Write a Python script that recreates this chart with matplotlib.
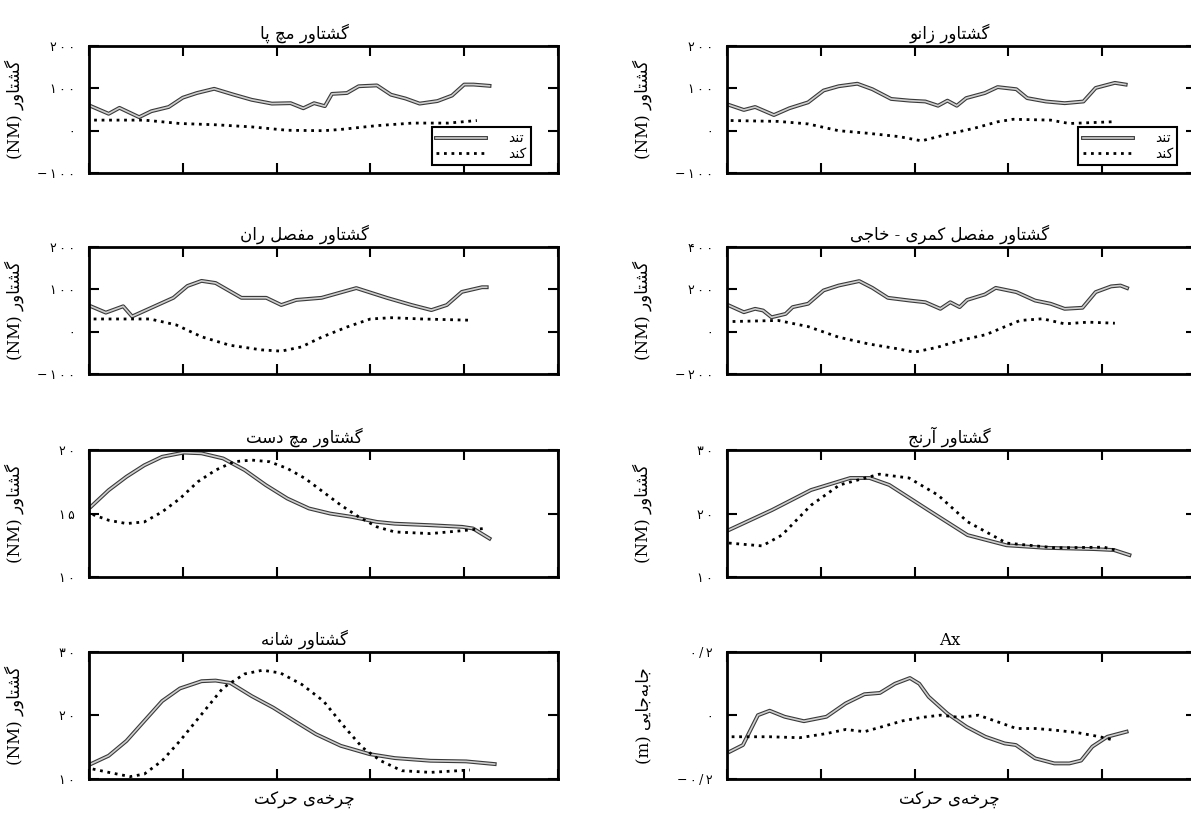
import matplotlib
matplotlib.use('Agg')
import matplotlib.pyplot as plt
import matplotlib.patheffects as pe
from matplotlib.ticker import FixedLocator, FuncFormatter

plt.rcParams['font.family'] = ['DejaVu Serif', 'DejaVu Sans']

# --- data (x = percent of cycle) ---
ankle_fast_x = [0, 4.2, 6.5, 10.7, 13.3, 17, 20, 23, 26.7, 30.9, 34.7, 39, 43, 45.7, 48, 50.3, 51.8, 55, 57.5, 61.4, 64.4, 67.5, 70.5, 74.3, 77.4, 80, 82, 85.4]
ankle_fast_y = [60, 40, 54, 32, 46, 56, 78, 89, 99, 85, 73, 64, 65, 53, 65, 58, 87, 89, 105, 107, 85, 76, 64, 70, 83, 109, 109, 106]
ankle_slow_x = [1.1, 11.8, 19.4, 27, 34.7, 42.3, 50, 53.7, 61.4, 69, 76.6, 82.7]
ankle_slow_y = [25, 25, 17, 14, 9, 1, 0, 3, 12, 18, 18, 24]

knee_fast_x = [0.4, 3.6, 6, 10, 13.3, 17.3, 20.6, 23.8, 27.8, 31, 35, 39, 42.3, 45, 47, 49, 51, 55, 57.7, 61.7, 64, 68, 72, 76, 78.6, 82.7, 85]
knee_fast_y = [61, 49, 56, 37, 53, 67, 95, 105, 111, 98, 75, 71, 69, 59, 71, 59, 77, 89, 103, 98, 77, 69, 65, 69, 101, 113, 109]
knee_slow_x = [0.8, 10.9, 17.3, 23.8, 30, 36.7, 41.5, 46.4, 52.8, 57.7, 61, 69, 73, 82]
knee_slow_y = [24, 22, 16, 0, -6, -14, -24, -10, 6, 21, 27, 25, 17, 21]

hip_fast_x = [0.4, 3.6, 7.3, 9.2, 13, 18, 21, 24, 27, 32.5, 37.8, 41, 44.2, 49.6, 57, 63.5, 68.8, 73, 76.3, 79.5, 83.8, 84.8]
hip_fast_y = [60, 45, 60, 36, 55, 80, 108, 120, 115, 80, 80, 63, 75, 80, 103, 80, 63, 51, 63, 94, 105, 105]
hip_slow_x = [1, 13, 18.6, 24, 30, 36.8, 41, 45.3, 49.6, 55, 60, 64.5, 71, 81.6]
hip_slow_y = [30, 30, 16, -12, -32, -43, -46, -36, -13, 11, 30, 33, 30, 27]

lumbar_fast_x = [0, 3.6, 6, 7.7, 9.5, 12.5, 14, 17.3, 20.6, 23.8, 28.2, 31, 34.3, 39, 42.3, 45.5, 47.6, 49.6, 51.2, 55, 57.3, 61.7, 65.7, 69, 72, 75.8, 78.6, 81.9, 83.9, 85.3]
lumbar_fast_y = [128, 92, 108, 100, 68, 84, 116, 132, 195, 218, 239, 207, 160, 147, 139, 108, 139, 116, 150, 176, 207, 187, 147, 132, 108, 113, 187, 214, 218, 206]
lumbar_slow_x = [1.2, 10.9, 17.3, 23.8, 30.2, 36.7, 39.9, 44.8, 49.6, 55.2, 59.3, 62.5, 67.3, 72, 77, 82.7]
lumbar_slow_y = [48, 53, 24, -26, -58, -82, -97, -74, -42, -14, 24, 53, 61, 37, 45, 40]

wrist_fast_x = [0.4, 4.2, 8, 11.8, 15.6, 20.2, 24, 28.6, 33.2, 37.7, 42.3, 46.9, 51.4, 56, 61.4, 65.2, 72.8, 79.6, 81.9, 85.4]
wrist_fast_y = [15.53, 16.84, 17.9, 18.8, 19.47, 19.8, 19.74, 19.34, 18.42, 17.24, 16.18, 15.4, 15.0, 14.74, 14.34, 14.2, 14.08, 13.95, 13.82, 13.03]
wrist_slow_x = [0.8, 4.2, 8, 11.8, 15.6, 19.4, 23.2, 27, 30.9, 34.7, 38.5, 42.3, 46.1, 49.9, 53.7, 57.5, 61.4, 65.2, 72.8, 80.4, 84.2]
wrist_slow_y = [14.92, 14.47, 14.21, 14.34, 15.13, 16.18, 17.5, 18.42, 19.08, 19.21, 19.08, 18.55, 17.76, 16.71, 15.66, 14.74, 13.95, 13.55, 13.42, 13.68, 13.82]

elbow_fast_x = [0.4, 9.6, 17.9, 26.3, 30.4, 34.6, 42.9, 51.3, 59.6, 67.9, 78.3, 82.5, 85.8]
elbow_fast_y = [17.4, 20.55, 23.7, 25.6, 25.6, 24.5, 20.55, 16.6, 15.0, 14.6, 14.4, 14.25, 13.46]
elbow_slow_x = [0.4, 7.5, 11.7, 17.9, 24, 32.5, 38.8, 45, 51.3, 59.6, 70, 80.4, 83.5]
elbow_slow_y = [15.35, 14.9, 16.6, 21.3, 24.5, 26.2, 25.6, 22.9, 18.7, 15.35, 14.6, 14.7, 14.1]

shoulder_fast_x = [0.4, 4.2, 8, 11.8, 15.6, 19.4, 24, 27, 30.1, 34.7, 39.3, 43.8, 48.4, 53.7, 59.8, 65.2, 72.8, 80.4, 86.5]
shoulder_fast_y = [12.35, 13.66, 16.0, 19.14, 22.27, 24.26, 25.4, 25.5, 25.14, 23.05, 21.23, 19.14, 17.05, 15.22, 13.92, 13.29, 12.87, 12.77, 12.35]
shoulder_slow_x = [0.8, 4.2, 8.8, 11.8, 15.6, 19.4, 24, 28.6, 33.2, 37, 40.8, 45.4, 50, 54.6, 58.3, 62.2, 66.7, 72.8, 81.2]
shoulder_slow_y = [11.57, 11.04, 10.37, 10.78, 12.87, 16.0, 20.18, 24.36, 26.55, 27.13, 26.7, 24.88, 22.27, 18.09, 14.96, 12.87, 11.3, 11.04, 11.41]

ax_fast_x = [0.6, 3.4, 5, 6.6, 9.1, 12.3, 16.4, 21.2, 25.3, 29.3, 32.6, 35.8, 39, 41, 43, 47, 51.1, 55.1, 59.2, 61.6, 65.7, 69.8, 73, 75.5, 77.9, 81.1, 85.2]
ax_fast_y = [-0.114, -0.093, -0.046, 0.001, 0.015, -0.004, -0.018, -0.004, 0.038, 0.067, 0.071, 0.1, 0.118, 0.1, 0.059, 0.006, -0.036, -0.067, -0.088, -0.093, -0.135, -0.151, -0.151, -0.142, -0.098, -0.067, -0.051]
ax_slow_x = [1, 9.1, 15.5, 21.2, 25.3, 29.3, 33.4, 37.4, 41.5, 45.5, 49.6, 53.6, 57.7, 61.7, 65.8, 69.8, 74.7, 79.5, 82.3]
ax_slow_y = [-0.067, -0.067, -0.07, -0.057, -0.044, -0.051, -0.034, -0.017, -0.006, 0.001, -0.006, 0.001, -0.02, -0.041, -0.041, -0.046, -0.054, -0.067, -0.077]

titles = ['گشتاور مچ پا', 'گشتاور زانو', 'گشتاور مفصل ران', 'گشتاور مفصل کمری - خاجی',
          'گشتاور مچ دست', 'گشتاور آرنج', 'گشتاور شانه', 'Ax']
ylims = [(-100, 200), (-100, 200), (-100, 200), (-200, 400), (10, 20), (10, 30), (10, 30), (-0.2, 0.2)]
yticks = [[-100, 0, 100, 200], [-100, 0, 100, 200], [-100, 0, 100, 200], [-200, 0, 200, 400],
          [10, 15, 20], [10, 20, 30], [10, 20, 30], [-0.2, 0, 0.2]]
legend_labels = ['تند', 'کند']
xlabel_text = 'چرخه‌ی حرکت'

series = [
    (ankle_fast_x, ankle_fast_y, ankle_slow_x, ankle_slow_y),
    (knee_fast_x, knee_fast_y, knee_slow_x, knee_slow_y),
    (hip_fast_x, hip_fast_y, hip_slow_x, hip_slow_y),
    (lumbar_fast_x, lumbar_fast_y, lumbar_slow_x, lumbar_slow_y),
    (wrist_fast_x, wrist_fast_y, wrist_slow_x, wrist_slow_y),
    (elbow_fast_x, elbow_fast_y, elbow_slow_x, elbow_slow_y),
    (shoulder_fast_x, shoulder_fast_y, shoulder_slow_x, shoulder_slow_y),
    (ax_fast_x, ax_fast_y, ax_slow_x, ax_slow_y),
]

# --- minimal persian shaping (matplotlib has no RTL / joining) ---
FORMS = {
    'ا': ('\uFE8D', '\uFE8E'), 'آ': ('\uFE81', '\uFE82'),
    'د': ('\uFEA9', '\uFEAA'), 'ر': ('\uFEAD', '\uFEAE'),
    'ز': ('\uFEAF', '\uFEB0'), 'و': ('\uFEED', '\uFEEE'),
    'ب': ('\uFE8F', '\uFE90', '\uFE91', '\uFE92'),
    'پ': ('\uFB56', '\uFB57', '\uFB58', '\uFB59'),
    'ت': ('\uFE95', '\uFE96', '\uFE97', '\uFE98'),
    'ج': ('\uFE9D', '\uFE9E', '\uFE9F', '\uFEA0'),
    'چ': ('\uFB7A', '\uFB7B', '\uFB7C', '\uFB7D'),
    'ح': ('\uFEA1', '\uFEA2', '\uFEA3', '\uFEA4'),
    'خ': ('\uFEA5', '\uFEA6', '\uFEA7', '\uFEA8'),
    'س': ('\uFEB1', '\uFEB2', '\uFEB3', '\uFEB4'),
    'ش': ('\uFEB5', '\uFEB6', '\uFEB7', '\uFEB8'),
    'ص': ('\uFEB9', '\uFEBA', '\uFEBB', '\uFEBC'),
    'ف': ('\uFED1', '\uFED2', '\uFED3', '\uFED4'),
    'ک': ('\uFB8E', '\uFB8F', '\uFB90', '\uFB91'),
    'گ': ('\uFB92', '\uFB93', '\uFB94', '\uFB95'),
    'ل': ('\uFEDD', '\uFEDE', '\uFEDF', '\uFEE0'),
    'م': ('\uFEE1', '\uFEE2', '\uFEE3', '\uFEE4'),
    'ن': ('\uFEE5', '\uFEE6', '\uFEE7', '\uFEE8'),
    'ه': ('\uFEE9', '\uFEEA', '\uFEEB', '\uFEEC'),
    'ی': ('\uFBFC', '\uFBFD', '\uFBFE', '\uFBFF'),
}


def fa(s):
    out = []
    for i, c in enumerate(s):
        if c not in FORMS:
            if c != '\u200c':
                out.append(c)
            continue
        f = FORMS[c]
        prev = s[i - 1] if i > 0 else ''
        nxt = s[i + 1] if i + 1 < len(s) else ''
        jp = prev in FORMS and len(FORMS[prev]) == 4
        jn = nxt in FORMS and len(f) == 4
        if jp and jn:
            out.append(f[3])
        elif jp:
            out.append(f[1])
        elif jn:
            out.append(f[2])
        else:
            out.append(f[0])
    return ''.join(reversed(out))


def fa_num(v, pos=None):
    if abs(v) < 1:
        s = ('%.1f' % v).replace('.', '/') if v != 0 else '0'
    else:
        s = '%d' % round(v)
    s = s.replace('-', '−')
    s = s.translate(str.maketrans('0123456789', '۰۱۲۳۴۵۶۷۸۹'))
    return '\u2009'.join(s)


fig = plt.figure(figsize=(11.91, 8.15), dpi=100)
col_x = [0.0747, 0.6104]
row_y = [0.7877, 0.5411, 0.292, 0.0442]
w, h = 0.3938, 0.1558

solid_fx = [pe.Stroke(linewidth=2.8, foreground='#3a3a3a'), pe.Normal()]

for k in range(8):
    r, c = k // 2, k % 2
    ax = fig.add_axes([col_x[c], row_y[r], w, h])
    fx, fy, sx, sy = series[k]
    ax.plot(fx, fy, color='#cfcfcf', lw=1.2, path_effects=solid_fx, label=fa(legend_labels[0]))
    ax.plot(sx, sy, color='black', lw=2.0, linestyle=(0, (1, 1.7)), label=fa(legend_labels[1]))
    ax.set_xlim(0, 100)
    ax.set_ylim(*ylims[k])
    ax.xaxis.set_major_locator(FixedLocator([0, 20, 40, 60, 80, 100]))
    ax.yaxis.set_major_locator(FixedLocator(yticks[k]))
    ax.yaxis.set_major_formatter(FuncFormatter(fa_num))
    ax.tick_params(direction='in', length=7, width=1.5, top=True, right=True,
                   labelbottom=False, labelsize=9, pad=10)
    for sp in ax.spines.values():
        sp.set_linewidth(2)
    t = titles[k] if titles[k] == 'Ax' else fa(titles[k])
    ax.set_title(t, fontsize=12, pad=5, x=0.46 if c == 0 else 0.475)
    if k == 7:
        ax.set_ylabel('(m) ' + fa('جابه‌جایی'), fontsize=12)
    else:
        ax.set_ylabel('(NM) ' + fa('گشتاور'), fontsize=12)
    ax.yaxis.set_label_coords(-0.139 if c == 0 else -0.16, 0.5)
    if r == 3:
        ax.set_xlabel(fa(xlabel_text), fontsize=12, labelpad=10)
        ax.xaxis.set_label_coords(0.46 if c == 0 else 0.475, -0.1)
    if r == 0:
        leg = ax.legend(loc='lower right', bbox_to_anchor=(0.942 if c == 0 else 0.96, 0.063),
                        borderaxespad=0, fancybox=False, framealpha=1, edgecolor='black',
                        fontsize=10, handlelength=3.6, labelspacing=0.1, borderpad=0.3,
                        handletextpad=1.6)
        leg.get_frame().set_linewidth(1.5)

fig.savefig('out.png', dpi=100)
